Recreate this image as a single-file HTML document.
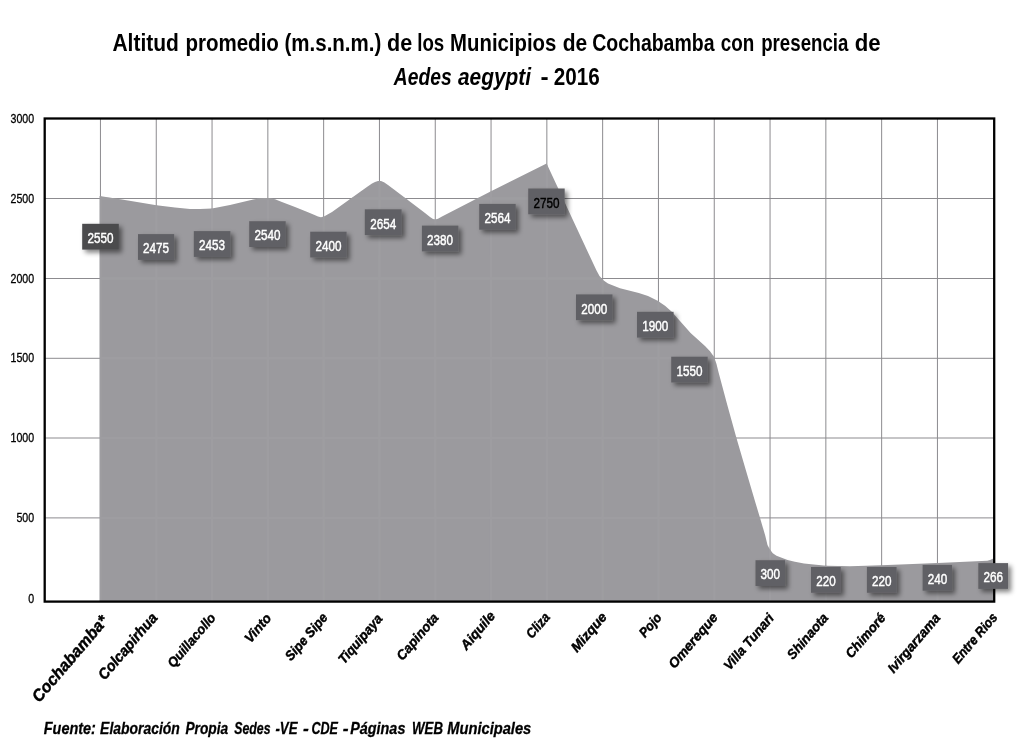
<!DOCTYPE html>
<html lang="es"><head><meta charset="utf-8"><title>Altitud promedio</title>
<style>
html,body{margin:0;padding:0;background:#fff;}
body{width:1020px;height:740px;overflow:hidden;}
svg{display:block;}
text{font-family:"Liberation Sans",sans-serif;}
.t{font-weight:bold;fill:#000;}
.yl{font-size:12.2px;fill:#000;text-anchor:end;stroke:#000;stroke-width:0.3;}
.dl{font-size:14.6px;font-weight:normal;fill:#fff;stroke:#fff;stroke-width:0.45;text-anchor:middle;}
.xl{font-weight:bold;font-style:italic;fill:#000;text-anchor:end;stroke:#000;stroke-width:0.45;}
</style></head><body>
<svg width="1020" height="740" viewBox="0 0 1020 740">
<defs><filter id="sh" x="-30%" y="-30%" width="170%" height="180%"><feGaussianBlur in="SourceAlpha" stdDeviation="2.4"/><feOffset dx="2.6" dy="2.6"/><feComponentTransfer><feFuncA type="linear" slope="0.5"/></feComponentTransfer><feMerge><feMergeNode/><feMergeNode in="SourceGraphic"/></feMerge></filter></defs>
<rect width="1020" height="740" fill="#fff"/>
<text class="t" x="112.4" y="50.7" font-size="24.5" textLength="66.5" lengthAdjust="spacingAndGlyphs">Altitud</text>
<text class="t" x="185.4" y="50.7" font-size="24.5" textLength="93.5" lengthAdjust="spacingAndGlyphs">promedio</text>
<text class="t" x="284.5" y="50.7" font-size="24.5" textLength="96.8" lengthAdjust="spacingAndGlyphs">(m.s.n.m.)</text>
<text class="t" x="387.0" y="50.7" font-size="24.5" textLength="25.2" lengthAdjust="spacingAndGlyphs">de</text>
<text class="t" x="417.2" y="50.7" font-size="24.5" textLength="27.0" lengthAdjust="spacingAndGlyphs">los</text>
<text class="t" x="450.1" y="50.7" font-size="24.5" textLength="106.2" lengthAdjust="spacingAndGlyphs">Municipios</text>
<text class="t" x="562.7" y="50.7" font-size="24.5" textLength="24.5" lengthAdjust="spacingAndGlyphs">de</text>
<text class="t" x="592.2" y="50.7" font-size="24.5" textLength="122.3" lengthAdjust="spacingAndGlyphs">Cochabamba</text>
<text class="t" x="720.7" y="50.7" font-size="24.5" textLength="33.5" lengthAdjust="spacingAndGlyphs">con</text>
<text class="t" x="761.2" y="50.7" font-size="24.5" textLength="87.2" lengthAdjust="spacingAndGlyphs">presencia</text>
<text class="t" x="854.8" y="50.7" font-size="24.5" textLength="25.9" lengthAdjust="spacingAndGlyphs">de</text>
<text class="t" x="393.8" y="85.3" font-size="23.5" font-style="italic" textLength="57.8" lengthAdjust="spacingAndGlyphs">Aedes</text>
<text class="t" x="458.0" y="85.3" font-size="23.5" font-style="italic" textLength="73.1" lengthAdjust="spacingAndGlyphs">aegypti</text>
<text class="t" x="540.4" y="85.3" font-size="23.5" textLength="8.1" lengthAdjust="spacingAndGlyphs">-</text>
<text class="t" x="553.8" y="85.3" font-size="23.5" textLength="46.0" lengthAdjust="spacingAndGlyphs">2016</text>
<path d="M100.45 118.5V601.6M156.25 118.5V601.6M212.05 118.5V601.6M267.85 118.5V601.6M323.65 118.5V601.6M379.45 118.5V601.6M435.25 118.5V601.6M491.05 118.5V601.6M546.85 118.5V601.6M602.65 118.5V601.6M658.45 118.5V601.6M714.25 118.5V601.6M770.05 118.5V601.6M825.85 118.5V601.6M881.65 118.5V601.6M937.45 118.5V601.6M44.7 198.5H994.2M44.7 278.5H994.2M44.7 358.3H994.2M44.7 438.0H994.2M44.7 517.9H994.2" stroke="#8c8b8f" stroke-width="1" fill="none"/>
<path d="M99.6 601.5L99.6 195.9L128 200.6L156.5 205.3L175 207.6L190 208.9L200 209.1L212 208.4L230 205L250 200.2L258 198.6L264 198.0L270 198.2L275 199.3L283.2 202.4L295 207L306.8 211.8L314 214.8L318 216.5L321 217.2L324 216.6L328 214.3L332 212L362 190.5L368 186.3L372 183.6L375 181.9L378 181.0L381 181.1L384 182.3L388 185L394 189.5L425 213L430 217L433 219L435.3 219.5L438 218.7L442 216.5L491 191.3L546.6 163.5L596.5 270.6L599.5 276L603 280L608 283.5L620 288.2L638.8 292.9L648 296L657.6 300.7L665 305.8L671.8 311.8L690.6 332.9L705 345.9L710 351.3L713.8 356.6L716.5 364L718.6 372.5L727.3 404.9L736.3 437.6L745.8 469.9L755.3 502.3L760.2 518.4L765.2 535.5L767.5 545L769.7 549.3L772.8 553.3L776.5 555.8L787.5 559.9L794.9 561.7L804 563.5L826 565.8L850 566.3L881.5 565.3L937.8 563.1L987.3 560.7L990 560L993.3 558.5L993.3 601.5Z" fill="#9b9a9e"/>
<clipPath id="ac"><path d="M99.6 601.5L99.6 195.9L128 200.6L156.5 205.3L175 207.6L190 208.9L200 209.1L212 208.4L230 205L250 200.2L258 198.6L264 198.0L270 198.2L275 199.3L283.2 202.4L295 207L306.8 211.8L314 214.8L318 216.5L321 217.2L324 216.6L328 214.3L332 212L362 190.5L368 186.3L372 183.6L375 181.9L378 181.0L381 181.1L384 182.3L388 185L394 189.5L425 213L430 217L433 219L435.3 219.5L438 218.7L442 216.5L491 191.3L546.6 163.5L596.5 270.6L599.5 276L603 280L608 283.5L620 288.2L638.8 292.9L648 296L657.6 300.7L665 305.8L671.8 311.8L690.6 332.9L705 345.9L710 351.3L713.8 356.6L716.5 364L718.6 372.5L727.3 404.9L736.3 437.6L745.8 469.9L755.3 502.3L760.2 518.4L765.2 535.5L767.5 545L769.7 549.3L772.8 553.3L776.5 555.8L787.5 559.9L794.9 561.7L804 563.5L826 565.8L850 566.3L881.5 565.3L937.8 563.1L987.3 560.7L990 560L993.3 558.5L993.3 601.5Z"/></clipPath>
<path clip-path="url(#ac)" d="M100.45 118.5V601.6M156.25 118.5V601.6M212.05 118.5V601.6M267.85 118.5V601.6M323.65 118.5V601.6M379.45 118.5V601.6M435.25 118.5V601.6M491.05 118.5V601.6M546.85 118.5V601.6M602.65 118.5V601.6M658.45 118.5V601.6M714.25 118.5V601.6M770.05 118.5V601.6M825.85 118.5V601.6M881.65 118.5V601.6M937.45 118.5V601.6M44.7 198.5H994.2M44.7 278.5H994.2M44.7 358.3H994.2M44.7 438.0H994.2M44.7 517.9H994.2" stroke="#a3a2a6" stroke-width="2.4" fill="none" opacity="0.4"/>
<rect x="44.7" y="118.5" width="949.5" height="483.1" fill="none" stroke="#000" stroke-width="2.3"/>
<text class="yl" x="34.1" y="122.9" textLength="23.6" lengthAdjust="spacingAndGlyphs">3000</text>
<text class="yl" x="34.1" y="202.9" textLength="23.6" lengthAdjust="spacingAndGlyphs">2500</text>
<text class="yl" x="34.1" y="282.8" textLength="23.6" lengthAdjust="spacingAndGlyphs">2000</text>
<text class="yl" x="34.1" y="362.1" textLength="23.6" lengthAdjust="spacingAndGlyphs">1500</text>
<text class="yl" x="34.1" y="442.3" textLength="23.6" lengthAdjust="spacingAndGlyphs">1000</text>
<text class="yl" x="34.1" y="522.4" textLength="17.7" lengthAdjust="spacingAndGlyphs">500</text>
<text class="yl" x="34.1" y="602.8" textLength="5.9" lengthAdjust="spacingAndGlyphs">0</text>
<g filter="url(#sh)">
<rect x="82.2" y="223.8" width="36.6" height="25.8" fill="#4b4b4e"/>
<rect x="138.0" y="234.1" width="36.2" height="25.8" fill="#616065"/>
<rect x="193.8" y="231.1" width="36.6" height="25.8" fill="#616065"/>
<rect x="249.2" y="221.2" width="36.5" height="25.8" fill="#616065"/>
<rect x="310.2" y="231.7" width="36.4" height="25.8" fill="#616065"/>
<rect x="364.8" y="209.3" width="36.8" height="25.8" fill="#616065"/>
<rect x="421.9" y="225.6" width="36.5" height="25.8" fill="#616065"/>
<rect x="479.2" y="203.9" width="36.5" height="25.8" fill="#616065"/>
<rect x="528.2" y="188.5" width="36.5" height="25.8" fill="#616065"/>
<rect x="576.0" y="294.4" width="36.5" height="25.8" fill="#616065"/>
<rect x="637.0" y="311.8" width="36.6" height="25.8" fill="#616065"/>
<rect x="671.2" y="356.7" width="36.5" height="25.8" fill="#616065"/>
<rect x="755.5" y="560.2" width="29.6" height="25.8" fill="#616065"/>
<rect x="811.0" y="567.0" width="29.8" height="25.8" fill="#616065"/>
<rect x="866.9" y="567.0" width="29.7" height="25.8" fill="#616065"/>
<rect x="922.6" y="564.9" width="29.5" height="25.8" fill="#616065"/>
<rect x="978.3" y="563.1" width="29.8" height="25.8" fill="#616065"/>
</g>
<text class="dl" x="100.5" y="243.0" textLength="26.0" lengthAdjust="spacingAndGlyphs">2550</text>
<text class="dl" x="156.1" y="253.3" textLength="26.0" lengthAdjust="spacingAndGlyphs">2475</text>
<text class="dl" x="212.1" y="250.3" textLength="26.0" lengthAdjust="spacingAndGlyphs">2453</text>
<text class="dl" x="267.5" y="240.4" textLength="26.0" lengthAdjust="spacingAndGlyphs">2540</text>
<text class="dl" x="328.4" y="250.9" textLength="26.0" lengthAdjust="spacingAndGlyphs">2400</text>
<text class="dl" x="383.2" y="228.5" textLength="26.0" lengthAdjust="spacingAndGlyphs">2654</text>
<text class="dl" x="440.1" y="244.8" textLength="26.0" lengthAdjust="spacingAndGlyphs">2380</text>
<text class="dl" x="497.5" y="223.1" textLength="26.0" lengthAdjust="spacingAndGlyphs">2564</text>
<text class="dl" x="546.5" y="207.7" textLength="26.0" lengthAdjust="spacingAndGlyphs" style="fill:#000;stroke:#000">2750</text>
<text class="dl" x="594.2" y="313.6" textLength="26.0" lengthAdjust="spacingAndGlyphs">2000</text>
<text class="dl" x="655.3" y="331.0" textLength="26.0" lengthAdjust="spacingAndGlyphs">1900</text>
<text class="dl" x="689.5" y="375.9" textLength="26.0" lengthAdjust="spacingAndGlyphs">1550</text>
<text class="dl" x="770.3" y="579.4" textLength="19.5" lengthAdjust="spacingAndGlyphs">300</text>
<text class="dl" x="825.9" y="586.2" textLength="19.5" lengthAdjust="spacingAndGlyphs">220</text>
<text class="dl" x="881.8" y="586.2" textLength="19.5" lengthAdjust="spacingAndGlyphs">220</text>
<text class="dl" x="937.4" y="584.1" textLength="19.5" lengthAdjust="spacingAndGlyphs">240</text>
<text class="dl" x="993.2" y="582.3" textLength="19.5" lengthAdjust="spacingAndGlyphs">266</text>
<text class="xl" font-size="16.5" font-style="normal" stroke-width="0" transform="translate(108.96 621.49) rotate(-49.5)" textLength="107.45" lengthAdjust="spacingAndGlyphs">Cochabamba*</text>
<text class="xl" font-size="15.0" transform="translate(158.28 618.11) rotate(-49.5)" textLength="82.25" lengthAdjust="spacingAndGlyphs">Colcapirhua</text>
<text class="xl" font-size="13.5" transform="translate(216.44 618.13) rotate(-49.5)" textLength="66.14" lengthAdjust="spacingAndGlyphs">Quillacollo</text>
<text class="xl" font-size="13.5" transform="translate(272.05 618.36) rotate(-49.5)" textLength="33.24" lengthAdjust="spacingAndGlyphs">Vinto</text>
<text class="xl" font-size="13.5" transform="translate(328.34 617.97) rotate(-49.5)" textLength="57.36" lengthAdjust="spacingAndGlyphs">Sipe Sipe</text>
<text class="xl" font-size="13.5" transform="translate(383.14 619.12) rotate(-49.5)" textLength="60.05" lengthAdjust="spacingAndGlyphs">Tiquipaya</text>
<text class="xl" font-size="13.5" transform="translate(439.33 618.08) rotate(-49.5)" textLength="56.71" lengthAdjust="spacingAndGlyphs">Capinota</text>
<text class="xl" font-size="13.5" transform="translate(495.9 616.26) rotate(-49.5)" textLength="45.22" lengthAdjust="spacingAndGlyphs">Aiquile</text>
<text class="xl" font-size="13.5" transform="translate(550.57 617.64) rotate(-49.5)" textLength="28.51" lengthAdjust="spacingAndGlyphs">Cliza</text>
<text class="xl" font-size="13.5" transform="translate(607.63 617.27) rotate(-49.5)" textLength="47.1" lengthAdjust="spacingAndGlyphs">Mizque</text>
<text class="xl" font-size="13.5" transform="translate(662.42 617.93) rotate(-49.5)" textLength="26.82" lengthAdjust="spacingAndGlyphs">Pojo</text>
<text class="xl" font-size="13.5" transform="translate(718.53 617.76) rotate(-49.5)" textLength="67.79" lengthAdjust="spacingAndGlyphs">Omereque</text>
<text class="xl" font-size="13.5" transform="translate(774.6 618.49) rotate(-49.5)" textLength="69.06" lengthAdjust="spacingAndGlyphs">Villa Tunari</text>
<text class="xl" font-size="13.5" transform="translate(828.93 618.2) rotate(-49.5)" textLength="55.17" lengthAdjust="spacingAndGlyphs">Shinaota</text>
<text class="xl" font-size="13.5" transform="translate(886.36 618.12) rotate(-49.5)" textLength="53.87" lengthAdjust="spacingAndGlyphs">Chimoré</text>
<text class="xl" font-size="13.5" transform="translate(941.1 618.24) rotate(-49.5)" textLength="72.93" lengthAdjust="spacingAndGlyphs">Ivirgarzama</text>
<text class="xl" font-size="13.5" transform="translate(998.18 617.77) rotate(-49.5)" textLength="61.59" lengthAdjust="spacingAndGlyphs">Entre Rios</text>
<text class="t" x="43.8" y="734.3" font-size="17" font-style="italic" stroke="#000" stroke-width="0.3" textLength="52.1" lengthAdjust="spacingAndGlyphs">Fuente:</text>
<text class="t" x="100.1" y="734.3" font-size="17" font-style="italic" stroke="#000" stroke-width="0.3" textLength="79.7" lengthAdjust="spacingAndGlyphs">Elaboración</text>
<text class="t" x="185.4" y="734.3" font-size="17" font-style="italic" stroke="#000" stroke-width="0.3" textLength="42.8" lengthAdjust="spacingAndGlyphs">Propia</text>
<text class="t" x="234.3" y="734.3" font-size="17" font-style="italic" stroke="#000" stroke-width="0.3" textLength="36.2" lengthAdjust="spacingAndGlyphs">Sedes</text>
<text class="t" x="275.4" y="734.3" font-size="17" font-style="italic" stroke="#000" stroke-width="0.3" textLength="22.1" lengthAdjust="spacingAndGlyphs">-VE</text>
<text class="t" x="303.0" y="734.3" font-size="17" font-style="italic" stroke="#000" stroke-width="0.3" textLength="5.8" lengthAdjust="spacingAndGlyphs">-</text>
<text class="t" x="311.5" y="734.3" font-size="17" font-style="italic" stroke="#000" stroke-width="0.3" textLength="26.5" lengthAdjust="spacingAndGlyphs">CDE</text>
<text class="t" x="342.7" y="734.3" font-size="17" font-style="italic" stroke="#000" stroke-width="0.3" textLength="5.8" lengthAdjust="spacingAndGlyphs">-</text>
<text class="t" x="350.2" y="734.3" font-size="17" font-style="italic" stroke="#000" stroke-width="0.3" textLength="55.2" lengthAdjust="spacingAndGlyphs">Páginas</text>
<text class="t" x="412.1" y="734.3" font-size="17" font-style="italic" stroke="#000" stroke-width="0.3" textLength="30.9" lengthAdjust="spacingAndGlyphs">WEB</text>
<text class="t" x="447.2" y="734.3" font-size="17" font-style="italic" stroke="#000" stroke-width="0.3" textLength="84.1" lengthAdjust="spacingAndGlyphs">Municipales</text>
</svg></body></html>
